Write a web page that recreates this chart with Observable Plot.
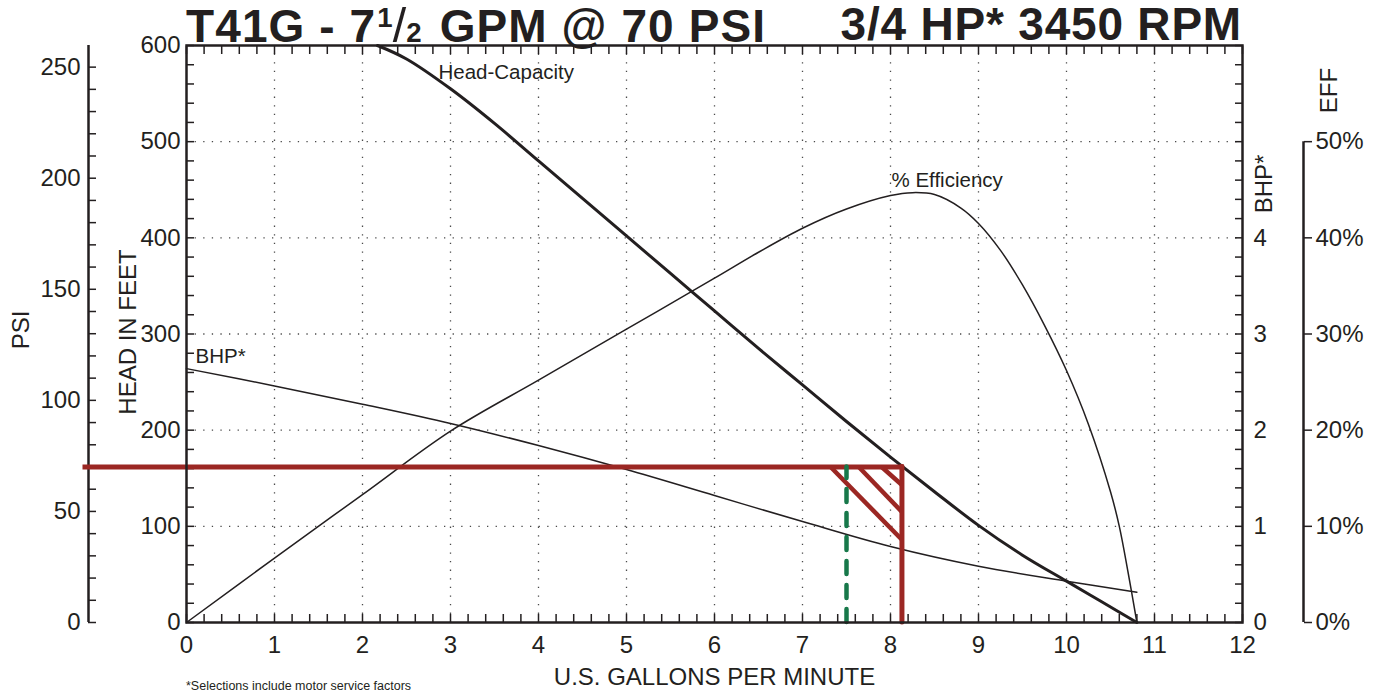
<!DOCTYPE html>
<html>
<head>
<meta charset="utf-8">
<script src="https://cdn.jsdelivr.net/npm/d3@7"></script>
<script src="https://cdn.jsdelivr.net/npm/@observablehq/plot@0.6"></script>
<style>
html, body { margin: 0; padding: 0; background: #fff; overflow: hidden; }
#wrap { position: relative; width: 1379px; height: 694px; font-family: "Liberation Sans", Arial, Helvetica, sans-serif; color: #231f20; }
#chart svg { display: block; }
.title { position: absolute; top: 1px; font-size: 46px; font-weight: bold; line-height: 1; letter-spacing: 0.8px; white-space: nowrap; }
.title.left { letter-spacing: 1.1px; }
.title .num { font-size: 0.6em; position: relative; top: -0.55em; margin-left: 1px; }
.title .sl { font-weight: normal; font-size: 1.05em; margin: 0 -1px; }
.title .den { font-size: 0.6em; margin-right: 3px; }
.foot { position: absolute; left: 186px; top: 680px; font-size: 12.5px; line-height: 1; white-space: nowrap; }
</style>
</head>
<body>
<div id="wrap">
  <div id="chart"></div>
  <div class="title left" style="left:186px">T41G - 7<span class="num">1</span><span class="sl">/</span><span class="den">2</span> GPM @ 70 PSI</div>
  <div class="title" style="right:137px">3/4 HP* 3450 RPM</div>
  <div class="foot">*Selections include motor service factors</div>
</div>
<script>
// ---- tick values / labels ----
const xTicks = [0, 1, 2, 3, 4, 5, 6, 7, 8, 9, 10, 11, 12];
const xGrid = [1, 2, 3, 4, 5, 6, 7, 8, 9, 10, 11];
const ftTicks = [0, 100, 200, 300, 400, 500, 600];
const ftGrid = [100, 200, 300, 400, 500];
const psiTicks = [0, 50, 100, 150, 200, 250];
const bhpTicks = [0, 1, 2, 3, 4];
const effTicks = [0, 10, 20, 30, 40, 50];
const axisTitles = ["PSI", "HEAD IN FEET", "BHP*", "EFF", "U.S. GALLONS PER MINUTE"];
const curveNames = ["Head-Capacity", "% Efficiency", "BHP*"];

// ---- series ----
const headGpm = [2.17, 2.5, 3.0, 3.5, 4.0, 4.5, 5.0, 5.5, 6.0, 6.5, 7.0, 7.5, 8.0, 8.5, 9.0, 9.5, 10.0, 10.4, 10.8];
const headFt  = [600, 586, 555, 519, 480, 441, 402, 363, 324, 285, 247, 209, 172, 136, 101, 70, 43, 21.5, 0];

const effGpm = [0, 1, 2, 3, 4, 5, 6, 6.5, 7.0, 7.5, 8.0, 8.25, 8.5, 8.8, 9.0, 9.25, 9.5, 9.75, 10.0, 10.25, 10.5, 10.6, 10.7, 10.8];
const effPct = [0, 6.7, 13.3, 19.9, 25.2, 30.5, 35.8, 38.5, 41.0, 43.0, 44.4, 44.7, 44.5, 43.1, 41.5, 38.7, 35.1, 30.9, 26.2, 20.6, 13.6, 10.0, 5.2, 0];

const bhpGpm = [0, 1, 2, 3, 4, 5, 6, 7, 8, 9, 10, 10.8];
const bhpVal = [2.64, 2.46, 2.27, 2.07, 1.84, 1.59, 1.32, 1.05, 0.79, 0.585, 0.43, 0.315];

// ---- operating point ----
const dutyPsi = 70;
const dutyGpm = 8.13;
const ratedGpm = 7.5;
const hatchStartGpm = [7.32, 7.64, 7.9];
const hatchEndFt = [86, 115, 143];

const FT_PER_PSI = 2.31;
const INK = "#231f20", RED = "#9b2723", GREEN = "#17784a", GRID = "#4a4a4a";

const dutyFt = dutyPsi * FT_PER_PSI;
const headRows = headGpm.map((g, i) => ({gpm: g, ft: headFt[i]}));
const effRows = effGpm.map((g, i) => ({gpm: g, ft: effPct[i] * 10}));
const bhpRows = bhpGpm.map((g, i) => ({gpm: g, ft: bhpVal[i] * 100}));
const hatchRows = hatchStartGpm.map((g, i) => ({gpm: g, endFt: hatchEndFt[i]}));

const xMax = xTicks[xTicks.length - 1];
const xMinor = d3.range(0, 61).map(i => i * xMax / 60);
const ftMinor = d3.range(0, 31).map(i => i * 20);
const psiMinor = d3.range(0, 26).map(i => i * 10 * FT_PER_PSI);
const blank = () => "";
const tickStyle = {strokeWidth: 1.5, tickFormat: blank, label: null};
const gridStyle = {stroke: GRID, strokeOpacity: 1, strokeWidth: 1.3, strokeDasharray: "1.3 7.3"};
const titleStyle = {text: d => d, textAnchor: "middle", lineAnchor: "middle"};

const chart = Plot.plot({
  width: 1379,
  height: 694,
  marginTop: 45,
  marginBottom: 72,
  marginLeft: 186,
  marginRight: 137,
  x: {domain: [xTicks[0], xMax], label: null},
  y: {domain: [ftTicks[0], ftTicks[ftTicks.length - 1]], label: null},
  style: {fontFamily: "'Liberation Sans', Arial, Helvetica, sans-serif", fontSize: "24px", color: INK, background: "transparent", overflow: "visible"},
  marks: [
    Plot.gridX(xGrid, gridStyle),
    Plot.gridY(ftGrid, gridStyle),
    // inward frame ticks
    Plot.axisX(xMinor, {anchor: "bottom", tickSize: 8, dy: -8, ...tickStyle}),
    Plot.axisX(xMinor, {anchor: "top", tickSize: 8, dy: 8, ...tickStyle}),
    Plot.axisY(ftMinor, {anchor: "left", tickSize: 8, dx: 8, ...tickStyle}),
    Plot.axisY(ftMinor, {anchor: "right", tickSize: 8, dx: -8, ...tickStyle}),
    // tick labels
    Plot.axisX(xTicks, {anchor: "bottom", tickSize: 0, tickPadding: 13, label: null}),
    Plot.axisY(ftTicks, {anchor: "left", tickSize: 0, tickPadding: 6, label: null}),
    Plot.axisY(bhpTicks.map(b => b * 100), {anchor: "right", tickSize: 0, tickPadding: 11, tickFormat: d => String(d / 100), label: null}),
    // PSI axis
    Plot.ruleX([xTicks[0]], {dx: -98, stroke: INK, strokeWidth: 2.5}),
    Plot.axisY(psiMinor, {anchor: "left", tickSize: 8, dx: -90, ...tickStyle}),
    Plot.axisY(psiTicks.map(p => p * FT_PER_PSI), {anchor: "left", tickSize: 0, dx: -98, tickPadding: 8, tickFormat: d => String(Math.round(d / FT_PER_PSI)), label: null}),
    // EFF axis
    Plot.ruleX([xMax], {y1: () => effTicks[0] * 10, y2: () => effTicks[effTicks.length - 1] * 10, dx: 61, stroke: INK, strokeWidth: 2.5}),
    Plot.axisY(effTicks.map(e => e * 10), {anchor: "right", tickSize: 8, dx: 61, ...tickStyle}),
    Plot.axisY(effTicks.map(e => e * 10), {anchor: "right", tickSize: 0, dx: 61, tickPadding: 12, tickFormat: d => (d / 10) + "%", label: null}),
    // axis titles
    Plot.text([axisTitles[0]], {...titleStyle, frameAnchor: "left", rotate: -90, dx: -165, dy: -4}),
    Plot.text([axisTitles[1]], {...titleStyle, frameAnchor: "left", rotate: -90, dx: -58, dy: -2}),
    Plot.text([axisTitles[2]], {...titleStyle, frameAnchor: "right", rotate: -90, dx: 22, dy: -150}),
    Plot.text([axisTitles[3]], {...titleStyle, frameAnchor: "top-right", rotate: -90, dx: 87, dy: 45}),
    Plot.text([axisTitles[4]], {...titleStyle, frameAnchor: "bottom", dy: 55}),
    // curves
    Plot.line(effRows, {x: "gpm", y: "ft", stroke: INK, strokeWidth: 1.5, curve: "catmull-rom"}),
    Plot.line(bhpRows, {x: "gpm", y: "ft", stroke: INK, strokeWidth: 1.5, curve: "catmull-rom"}),
    Plot.line(headRows, {x: "gpm", y: "ft", stroke: INK, strokeWidth: 3, curve: "catmull-rom"}),
    Plot.text(headRows, Plot.selectFirst({x: "gpm", y: "ft", text: () => curveNames[0], textAnchor: "start", dx: 61, dy: 27, fontSize: 20.5})),
    Plot.text(effRows, Plot.selectMaxY({x: "gpm", y: "ft", text: () => curveNames[1], textAnchor: "start", dx: -21, dy: -12, fontSize: 20.5})),
    Plot.text(bhpRows, Plot.selectFirst({x: "gpm", y: "ft", text: () => curveNames[2], textAnchor: "start", dx: 9, dy: -12, fontSize: 20.5})),
    // operating point
    Plot.link(hatchRows, {x1: "gpm", y1: () => dutyFt, x2: () => dutyGpm, y2: "endFt", stroke: RED, strokeWidth: 4.5}),
    Plot.ruleY([dutyFt], {x1: () => xTicks[0], x2: () => dutyGpm, insetLeft: -101, stroke: RED, strokeWidth: 5, strokeLinecap: "square"}),
    Plot.ruleX([dutyGpm], {y1: () => 0, y2: () => dutyFt, stroke: RED, strokeWidth: 5, strokeLinecap: "round"}),
    Plot.ruleX([ratedGpm], {y1: () => 0, y2: () => dutyFt, stroke: GREEN, strokeWidth: 4.5, strokeDasharray: "13 11", strokeLinecap: "round"}),
    Plot.frame({stroke: INK, strokeWidth: 2.5})
  ]
});
document.getElementById("chart").appendChild(chart);
</script>
</body>
</html>
